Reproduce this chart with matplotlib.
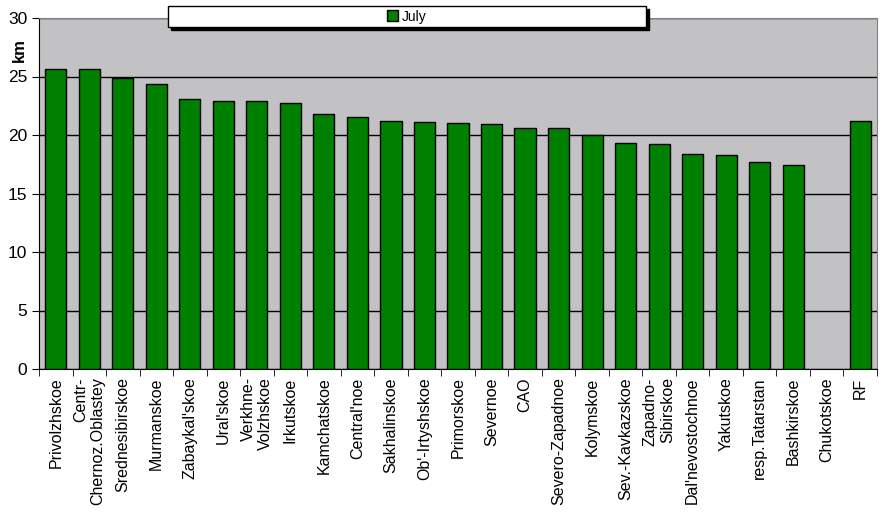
import matplotlib
matplotlib.use("Agg")
from matplotlib import pyplot as plt
from matplotlib.patches import Rectangle, Patch
import numpy as np

plt.rcParams['font.family'] = ['Liberation Sans', 'DejaVu Sans']

regions = ["Privolzhskoe", "Centr-\nChernoz.Oblastey", "Srednesibirskoe", "Murmanskoe",
           "Zabaykal'skoe", "Ural'skoe", "Verkhne-\nVolzhskoe", "Irkutskoe", "Kamchatskoe",
           "Central'noe", "Sakhalinskoe", "Ob'-Irtyshskoe", "Primorskoe", "Severnoe", "CAO",
           "Severo-Zapadnoe", "Kolymskoe", "Sev.-Kavkazskoe", "Zapadno-\nSibirskoe",
           "Dal'nevostochnoe", "Yakutskoe", "resp.Tatarstan", "Bashkirskoe", "Chukotskoe", "RF"]
july = [25.6, 25.6, 24.9, 24.4, 23.1, 22.9, 22.9, 22.7, 21.8, 21.5, 21.2, 21.1, 21.0,
        20.9, 20.6, 20.6, 20.0, 19.3, 19.2, 18.4, 18.3, 17.7, 17.4, np.nan, 21.2]

fig = plt.figure(figsize=(8.82, 5.16), dpi=100)
ax = fig.add_axes([39/882, 1-369/516, (877-39)/882, (369-18)/516])
ax.set_facecolor('#C2C1C4')

x = np.arange(len(regions))
ax.bar(x, july, width=0.63, color='#008000', edgecolor='black', linewidth=1, zorder=3)

ax.set_xlim(-0.5, len(regions)-0.5)
ax.set_ylim(0, 30)
ax.set_yticks(range(0, 31, 5))
ax.yaxis.grid(True, color='black', linewidth=1, zorder=1)
ax.set_axisbelow(True)

ax.set_xticks(x)
ax.set_xticklabels(regions, rotation=90, ha='center', va='top', multialignment='right', fontsize=11.5)
ax.tick_params(axis='x', length=0, pad=6)
ax.set_xticks(np.arange(-0.5, len(regions), 1), minor=True)
ax.tick_params(axis='x', which='minor', length=5, direction='out', color='black')
ax.tick_params(axis='y', length=5, labelsize=12.5, color='black')

ax.spines['top'].set_color('#808080')
ax.spines['right'].set_color('#808080')
ax.spines['left'].set_color('black')
ax.spines['bottom'].set_color('black')

ax.set_ylabel('km', fontweight='bold', fontsize=12)
ax.yaxis.set_label_coords(-0.014, 0.91)

# legend box with shadow
lx, ly, lw, lh = 168/882, 1-27/516, (646-168)/882, 21/516
fig.patches.append(Rectangle((lx+3/882, ly-3/516), lw, lh, transform=fig.transFigure,
                             facecolor='black', edgecolor='black', zorder=5))
fig.patches.append(Rectangle((lx, ly), lw, lh, transform=fig.transFigure,
                             facecolor='white', edgecolor='black', linewidth=1, zorder=6))
leg = fig.legend(handles=[Patch(facecolor='#008000', edgecolor='black', label='July')],
                 loc='center', bbox_to_anchor=(lx+lw/2, ly+lh/2), frameon=False,
                 fontsize=10, handlelength=0.8, handleheight=0.8, handletextpad=0.3)
leg.set_zorder(7)

fig.savefig("out.png", dpi=100)
